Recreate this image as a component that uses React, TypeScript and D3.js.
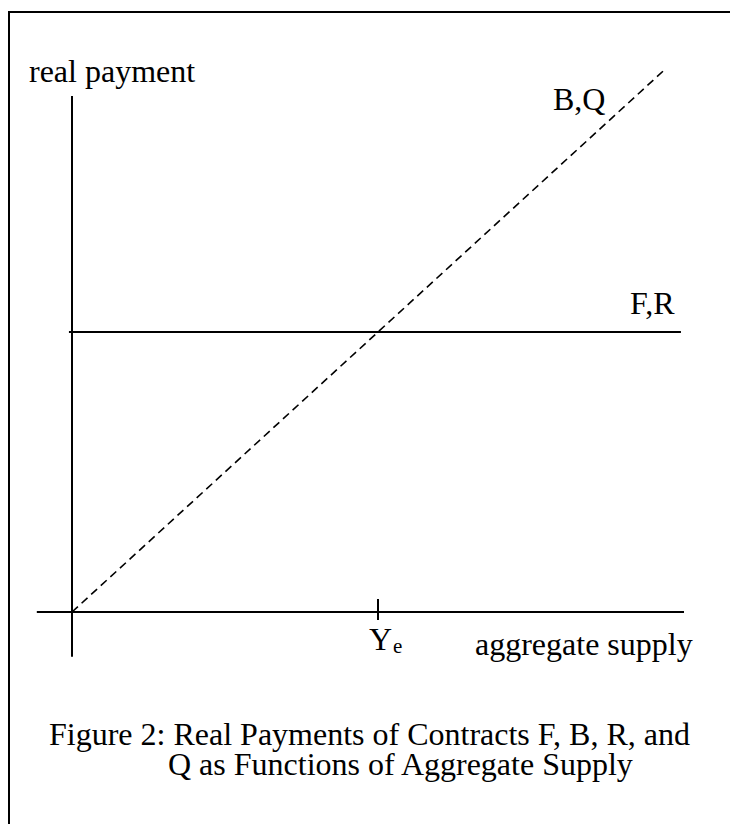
import React from "react";
import * as d3 from "d3";

// Values of the sketch, in abstract units (equilibrium supply Ye = 1)
const xAxisExtent = [-0.115, 2.0];
const yAxisExtent = [-0.16, 1.843];
const fixedPayment = [-0.01, 1.99]; // F,R runs flat at payment 1
const fixedLevel = 1;
const proportionalEnd = 1.94; // B,Q rises from the origin
const yeValue = 1;
const curveLabels = ["B,Q", "F,R"];
const axisLabels = ["real payment", "aggregate supply"];
const captionLines = [
  "Figure 2: Real Payments of Contracts F, B, R, and",
  "Q as Functions of Aggregate Supply",
];

function App() {
  const width = 730,
    height = 824;

  // origin at (72, 612); one unit is 306px across and 280px up
  const x = d3.scaleLinear().domain([0, 1]).range([72, 378]);
  const y = d3.scaleLinear().domain([0, 1]).range([612, 332]);

  const line = d3.line<number[]>()
    .x(d => x(d[0]))
    .y(d => y(d[1]));

  const font = "'Liberation Serif', 'Times New Roman', serif";

  return (
    <svg width={width} height={height} style={{position: "absolute", left: 0, top: 0, background: "#fff"}}>
      {/* frame, cut off on the right and at the bottom */}
      <rect x={9} y={12} width={760} height={860} fill="none" stroke="#000" strokeWidth={2} />

      {/* axes */}
      <path d={line([[0, yAxisExtent[0]], [0, yAxisExtent[1]]]) || ""} stroke="#000" strokeWidth={2} />
      <path d={line([[xAxisExtent[0], 0], [xAxisExtent[1], 0]]) || ""} stroke="#000" strokeWidth={2} />

      {/* Ye tick */}
      <line x1={x(yeValue)} x2={x(yeValue)} y1={y(0) - 13} y2={y(0) + 8} stroke="#000" strokeWidth={2} />

      {/* F,R : flat payment */}
      <path d={line(fixedPayment.map(v => [v, fixedLevel])) || ""} stroke="#000" strokeWidth={2} fill="none" />

      {/* B,Q : payment proportional to supply */}
      <path d={line([[0, 0], [proportionalEnd, proportionalEnd]]) || ""} stroke="#000" strokeWidth={1.6}
            strokeDasharray="8 5" fill="none" />

      <g fontFamily={font} fontSize={32} fill="#000">
        <text x={29} y={82}>{axisLabels[0]}</text>
        <text x={475} y={655}>{axisLabels[1]}</text>
        <text x={553} y={110}>{curveLabels[0]}</text>
        <text x={630} y={314}>{curveLabels[1]}</text>
        <text x={369} y={650}>Y<tspan fontSize={21} dx={1} dy={3}>e</tspan></text>
        <text x={49} y={745}>{captionLines[0]}</text>
        <text x={168} y={775}>{captionLines[1]}</text>
      </g>
    </svg>
  );
}

export default App;
